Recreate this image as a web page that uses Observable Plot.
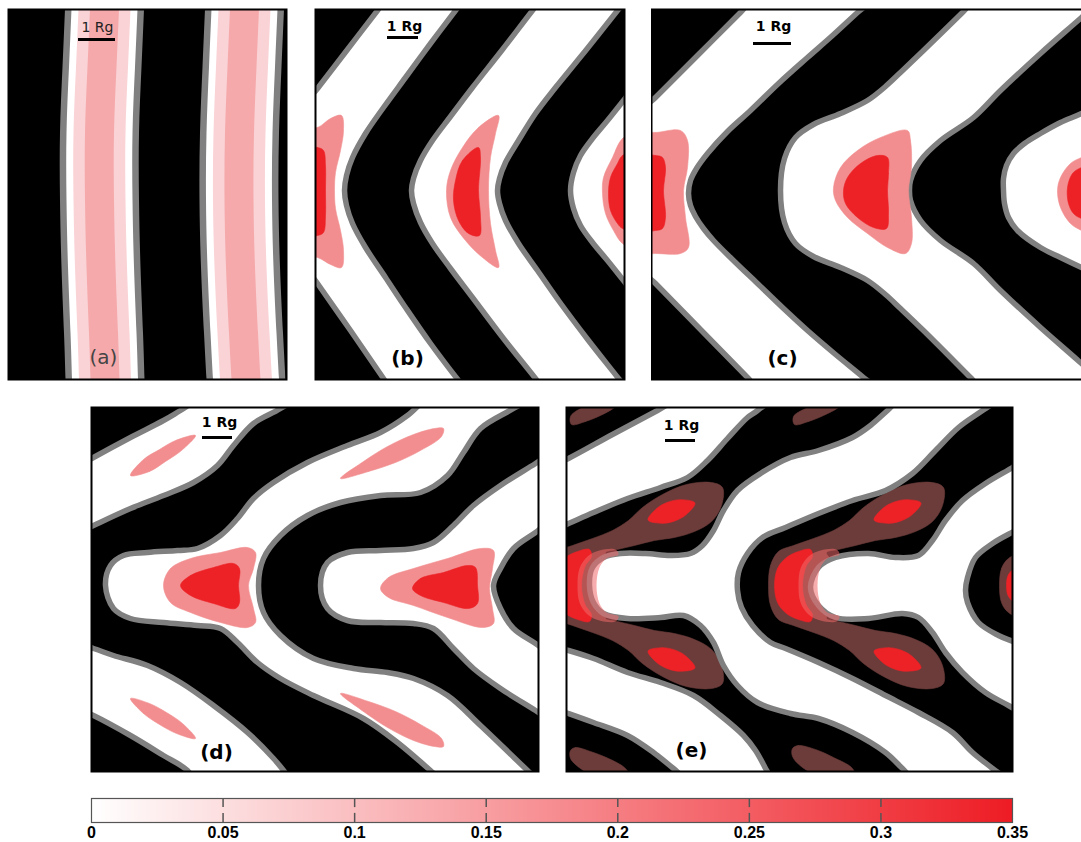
<!DOCTYPE html>
<html>
<head>
<meta charset="utf-8">
<script src="https://cdn.jsdelivr.net/npm/d3@7"></script>
<script src="https://cdn.jsdelivr.net/npm/@observablehq/plot@0.6"></script>
<style>
  html, body { margin: 0; padding: 0; background: #fff; }
  body { width: 1081px; height: 842px; position: relative; overflow: hidden; font-family: "DejaVu Sans", sans-serif; }
  .panel { position: absolute; overflow: visible; }
  .clip { position: absolute; overflow: hidden; }
  svg { max-width: none !important; }
</style>
</head>
<body>
<script>
// ---------------- DATA (page-pixel units) ----------------

// Panel (a): two vertical stripes; centre line x at sample heights, and contour half-widths
const aY        = [9, 67, 133, 200, 267, 333, 379];
const aStripe1  = [104.5, 102, 99.5, 99.5, 101, 103.5, 105];
const aStripe2  = [244.5, 242, 239.5, 239, 240.5, 243.5, 246];
const aHalfWidths = [39.5, 33, 26, 14.5];          // edge, white, level 1, level 2

// Panel (b): white chevron stripes and pink / red blobs
const bWhite = [
  [[295,117],[317,88],[347,49],[377,10],[396,-15],[474,-15],[455,10],[430,43],[405,77],[383,107],[365,133],[352,157],[346,175],[344,190],[346,205],[352,223],[365,247],[385,277],[405,307],[430,343],[458,380],[474,400],[398,400],[383,378],[350,330],[317,283],[295,251]],
  [[552,-15],[532,10],[502,49],[472,87],[450,116],[432,140],[420,160],[413,178],[411,190],[413,203],[420,222],[432,243],[450,268],[472,297],[503,338],[535,378],[552,400],[635,400],[618,378],[588,340],[558,300],[537,270],[518,243],[505,220],[499,203],[497,190],[499,178],[505,162],[518,140],[535,113],[555,87],[586,49],[617,10],[637,-15]],
  [[650,66],[623,100],[607,120],[592,138],[580,155],[573,172],[570,190],[573,208],[580,225],[592,242],[607,260],[623,280],[650,314],[680,314],[680,66]]
];
const bPink = [
  [[295,128],[317,127],[330,118],[341,115],[343,130],[340,150],[335,172],[334,190],[335,208],[340,230],[343,250],[341,267],[330,264],[317,257],[295,255]],
  [[498,115],[478,127],[462,147],[450,170],[446,190],[450,217],[465,240],[482,257],[498,267],[495,250],[490,223],[488,190],[490,157],[495,133]],
  [[640,130],[622,138],[612,157],[603,177],[602,193],[605,213],[613,230],[622,243],[640,250]]
];
const bRed = [
  [[295,148],[317,147],[323,150],[325,165],[325,190],[325,215],[323,232],[317,235],[295,235]],
  [[478,147],[462,160],[455,180],[453,200],[458,220],[468,233],[479,235],[480,217],[478,190],[480,157]],
  [[640,150],[622,155],[617,163],[610,177],[608,193],[610,210],[617,223],[622,228],[640,232]]
];

// Panel (c)
const cWhite = [
  [[630,122],[655,97],[697,55],[740,12],[767,-15],[887,-15],[857,12],[832,35],[807,57],[778,83],[750,110],[727,131],[707,153],[696,168],[690,180],[688,193],[690,205],[695,216],[703,228],[713,240],[735,262],[757,283],[782,307],[807,330],[835,354],[863,377],[890,400],[770,400],[747,377],[701,330],[655,283],[630,258]],
  [[990,-15],[962,12],[923,50],[900,72],[885,86],[867,100],[840,113],[813,124],[795,137],[784,158],[780,190],[784,222],[795,243],[813,256],[840,267],[867,280],[885,294],[900,308],[923,330],[970,377],[993,400],[1122,400],[1081,363],[1040,327],[1000,290],[973,263],[940,240],[920,220],[910,200],[909,190],[910,180],[920,160],[940,140],[973,117],[1000,90],[1040,53],[1081,17],[1117,-15]],
  [[1110,98],[1081,113],[1060,122],[1040,133],[1024,143],[1013,153],[1006,165],[1003,178],[1003,190],[1004,203],[1008,217],[1017,230],[1040,247],[1060,257],[1081,267],[1110,280],[1130,280],[1130,98]]
];
const cPink = [
  [[630,132],[655,132],[680,130],[687,140],[687,167],[683,190],[685,217],[688,247],[680,253],[655,253],[630,253]],
  [[907,130],[910,140],[911,167],[908,190],[911,217],[911,243],[905,253],[887,247],[867,233],[847,217],[835,200],[833,187],[840,167],[857,150],[880,137]],
  [[1100,150],[1081,157],[1070,163],[1060,177],[1057,190],[1060,207],[1070,223],[1081,230],[1100,237]]
];
const cRed = [
  [[630,155],[655,155],[662,157],[665,167],[663,190],[665,217],[662,228],[655,230],[630,230]],
  [[887,157],[888,173],[887,190],[888,213],[886,228],[873,227],[857,217],[845,203],[843,190],[847,177],[860,163],[877,155]],
  [[1100,163],[1081,167],[1072,173],[1067,187],[1068,203],[1073,213],[1081,218],[1100,222]]
];

// Panel (d)
const dWhite = [
  [[70,470],[93,457],[130,437],[163,420],[180,410],[222,385],[313,385],[280,408],[253,423],[233,445],[217,465],[193,482],[163,495],[130,508],[93,525],[70,536]],
  [[105,585],[110,565],[123,555],[147,552],[177,550],[197,548],[220,535],[237,518],[253,498],[273,482],[307,462],[347,445],[380,432],[407,415],[415,408],[441,385],[551,385],[513,408],[480,428],[463,452],[447,475],[420,492],[380,495],[340,502],[307,515],[280,535],[263,558],[258,585],[263,612],[280,635],[313,658],[353,668],[387,672],[413,678],[447,695],[480,725],[527,770],[553,795],[459,795],[430,770],[397,742],[363,718],[313,695],[280,678],[257,662],[237,642],[220,628],[197,625],[163,622],[130,618],[113,608]],
  [[320,585],[327,562],[347,552],[380,550],[413,548],[433,542],[453,525],[473,505],[500,485],[535,463],[560,447],[580,440],[580,520],[560,514],[535,532],[513,548],[500,568],[493,585],[500,608],[513,628],[535,643],[560,660],[580,655],[580,730],[560,726],[535,710],[500,688],[473,668],[453,648],[433,628],[413,623],[380,622],[347,620],[327,608]],
  [[70,641],[93,648],[113,655],[147,665],[180,682],[213,705],[247,732],[273,758],[283,770],[300,795],[205,795],[187,770],[163,755],[130,735],[93,715],[70,705]]
];
const dPink = [
  [[130,475],[149,471],[165,461],[181,450],[195,435],[175,440],[159,449],[143,459]],
  [[340,478],[368,471],[395,462],[420,450],[441,436],[443,428],[434,428],[413,434],[387,446],[363,461]],
  [[130,698],[143,713],[159,724],[176,733],[195,738],[182,723],[166,712],[149,703]],
  [[340,693],[363,711],[387,727],[413,740],[434,746],[443,746],[441,738],[420,724],[395,711],[368,701]],
  [[163,585],[170,568],[190,558],[220,552],[247,547],[255,552],[253,568],[248,585],[253,608],[255,622],[247,627],[220,622],[190,612],[170,602]],
  [[380,588],[388,577],[413,568],[447,558],[480,548],[493,550],[492,568],[489,588],[492,608],[493,623],[482,627],[447,617],[413,605],[388,597]]
];
const dRed = [
  [[180,585],[190,575],[213,567],[233,563],[239,568],[238,585],[239,602],[235,608],[213,603],[190,595]],
  [[412,588],[420,578],[443,572],[467,565],[475,567],[477,585],[477,603],[468,608],[443,602],[420,595]]
];

// Panel (e)
const eWhite = [
  [[545,469],[568,458],[612,434],[657,410],[703,385],[785,385],[757,410],[747,417],[727,438],[707,460],[687,477],[660,487],[627,498],[593,512],[568,523],[545,533]],
  [[545,644],[568,650],[593,658],[627,672],[660,682],[693,695],[720,715],[743,735],[755,750],[765,768],[778,795],[707,795],[673,768],[653,752],[627,735],[593,722],[568,713],[545,705]],
  [[589,585],[592,567],[603,557],[620,553],[645,553],[670,555],[690,553],[702,545],[713,530],[723,510],[737,490],[760,473],[790,457],[818,450],[852,437],[870,425],[887,410],[915,385],[1017,385],[982,410],[958,427],[935,450],[912,473],[885,490],[852,500],[818,513],[785,527],[762,537],[747,553],[738,572],[737,590],[741,607],[752,625],[770,642],[785,648],[818,662],[852,678],[885,695],[918,712],[952,732],[972,752],[992,768],[1026,795],[931,795],[902,768],[885,752],[852,732],[818,718],[790,713],[757,702],[737,685],[723,665],[713,642],[700,625],[683,615],[660,617],[627,618],[603,613],[593,602]],
  [[810,587],[818,567],[835,557],[868,553],[895,557],[918,555],[932,540],[945,520],[962,500],[985,483],[1012,467],[1035,453],[1050,450],[1050,522],[1035,519],[1015,530],[992,543],[975,557],[967,577],[965,590],[967,602],[978,622],[998,635],[1015,642],[1035,652],[1050,652],[1050,722],[1035,720],[1008,705],[985,692],[962,672],[945,652],[932,632],[918,617],[902,613],[868,618],[835,617],[818,605]]
];
const eBrown = [
  [[547,585],[549,565],[557,551],[572,545],[592,538],[612,530],[628,520],[642,507],[662,494],[686,484],[711,482],[722,487],[721,505],[711,521],[694,531],[674,537],[654,540],[634,545],[617,549],[605,552],[609,560],[609,610],[605,618],[617,621],[634,625],[654,630],[674,633],[694,639],[711,649],[721,665],[722,683],[711,688],[686,686],[662,676],[642,663],[628,650],[612,640],[592,632],[572,625],[557,619],[549,605]],
  [[768,585],[770,565],[778,551],[793,545],[813,538],[833,530],[849,520],[863,507],[883,494],[907,484],[932,482],[943,487],[942,505],[932,521],[915,531],[895,537],[875,540],[855,545],[838,549],[826,552],[830,560],[830,610],[826,618],[838,621],[855,625],[875,630],[895,633],[915,639],[932,649],[942,665],[943,683],[932,688],[907,686],[883,676],[863,663],[849,650],[833,640],[813,632],[793,625],[778,619],[770,605]],
  [[999,585],[1001,568],[1008,558],[1025,552],[1025,618],[1008,612],[1001,602]],
  [[571,424],[585,421],[600,415],[614,407],[620,400],[600,400],[580,408],[570,416]],
  [[794,424],[808,421],[823,415],[838,407],[845,400],[825,400],[805,408],[793,416]],
  [[570,750],[575,747],[590,751],[608,758],[625,768],[630,778],[600,778],[580,768],[570,758]],
  [[792,748],[798,745],[815,749],[833,757],[852,768],[855,778],[825,778],[802,767],[792,756]]
];
const eRed = [
  [[553,585],[556,568],[565,557],[577,551],[589,549],[591,556],[585,565],[582,575],[581,585],[582,595],[585,605],[591,614],[589,621],[577,619],[565,613],[556,602]],
  [[774,585],[777,568],[786,557],[798,551],[810,549],[812,556],[806,565],[803,575],[802,585],[803,595],[806,605],[812,614],[810,621],[798,619],[786,613],[777,602]],
  [[647.5,519.5],[662,522.8],[674.4,520.4],[685.5,514.3],[694.5,502.5],[680,499.2],[667.6,501.6],[656.5,507.7]],
  [[647.5,650.5],[662,647.2],[674.4,649.6],[685.5,655.7],[694.5,667.5],[680,670.8],[667.6,668.4],[656.5,662.3]],
  [[873.5,519.5],[888,522.8],[900.4,520.4],[911.5,514.3],[920.5,502.5],[906,499.2],[893.6,501.6],[882.5,507.7]],
  [[873.5,650.5],[888,647.2],[900.4,649.6],[911.5,655.7],[920.5,667.5],[906,670.8],[893.6,668.4],[882.5,662.3]],
  [[1006,585],[1008,574],[1018,566],[1018,604],[1008,596]]
];
const eGlow = [
  [[577,585],[579,568],[587,556],[599,550],[615,549],[618,554],[606,558],[599,567],[596,585],[599,603],[606,612],[618,616],[615,621],[599,620],[587,614],[579,602]],
  [[798,585],[800,568],[808,556],[820,550],[836,549],[839,554],[827,558],[820,567],[817,585],[820,603],[827,612],[839,616],[836,621],[820,620],[808,614],[800,602]]
];

// Colour bar
const cbTicks = [0, 0.05, 0.1, 0.15, 0.2, 0.25, 0.3, 0.35];

// ---------------- LAYOUT / STYLE ----------------
const C = {gray: "#808080", pink: "#f28e90", red: "#ec2227", brown: "#6c3c3a", a1: "#fad3d6", a2: "#f5a9ab"};
const boxes = {a: [8, 286, 9, 379], b: [315, 624, 9, 379], c: [651, 1091, 9, 379], d: [91, 538, 407, 771], e: [566, 1012, 407, 771]};
const notes = {
  a: {rg: [97, 27], bar: [78, 115, 39], tag: [103, 357], bold: false},
  b: {rg: [404, 26], bar: [387, 418, 37], tag: [407, 358], bold: true},
  c: {rg: [773, 26], bar: [753, 791, 43], tag: [782, 358], bold: true},
  d: {rg: [219, 422], bar: [202, 232, 437], tag: [216, 752], bold: true},
  e: {rg: [681, 425], bar: [665, 695, 440], tag: [691, 750], bold: true}
};

const toRows = shapes => shapes.flatMap((pts, id) => pts.map(([x, y]) => ({id, x, y})));
const blob = (shapes, fill, extra = {}) => Plot.line(toRows(shapes), {x: "x", y: "y", z: "id", curve: "catmull-rom-closed", fill, stroke: fill, strokeWidth: 0.6, clip: true, ...extra});
const band = shapes => Plot.line(toRows(shapes), {x: "x", y: "y", z: "id", curve: "catmull-rom-closed", fill: "white", stroke: C.gray, strokeWidth: 5.5, clip: true});

function annotations(key) {
  const n = notes[key];
  const w = n.bold ? "bold" : "normal";
  return [
    Plot.text([{t: "1 Rg", x: n.rg[0], y: n.rg[1]}], {x: "x", y: "y", text: "t", fontSize: 14, fontWeight: w, fontFamily: "DejaVu Sans", fill: n.bold ? "black" : "#222"}),
    Plot.ruleY([{x1: n.bar[0], x2: n.bar[1], y: n.bar[2]}], {x1: "x1", x2: "x2", y: "y", stroke: "black", strokeWidth: 3}),
    Plot.text([{t: `(${key})`, x: n.tag[0], y: n.tag[1]}], {x: "x", y: "y", text: "t", fontSize: 20, fontWeight: w, fontFamily: "DejaVu Sans", fill: n.bold ? "black" : "#444"})
  ];
}

function drawPanel(key, marks, visibleWidth) {
  const [x0, x1, y0, y1] = boxes[key];
  const w = x1 - x0, h = y1 - y0;
  const svg = Plot.plot({
    width: w, height: h, margin: 0,
    x: {domain: [x0, x1], axis: null},
    y: {domain: [y0, y1], reverse: true, axis: null},
    style: {background: "transparent", overflow: "visible", maxWidth: "none"},
    marks: [Plot.frame({fill: "black"}), ...marks, ...annotations(key), Plot.frame({stroke: "black", strokeWidth: 2})]
  });
  const div = document.createElement("div");
  div.className = visibleWidth ? "clip" : "panel";
  Object.assign(div.style, {left: x0 + "px", top: (y0 - (visibleWidth ? 2 : 0)) + "px", width: (visibleWidth ?? w) + "px", height: (h + (visibleWidth ? 4 : 0)) + "px"});
  if (visibleWidth) { svg.style.marginTop = "2px"; svg.style.width = w + "px"; }
  div.appendChild(svg);
  document.body.appendChild(div);
}

// Panel (a)
const aRows = aY.map((y, i) => ({y, s1: aStripe1[i], s2: aStripe2[i]}));
const aFills = [C.gray, "white", C.a1, C.a2];
const aMarks = [];
for (const s of ["s1", "s2"]) {
  aHalfWidths.forEach((hw, k) => {
    aMarks.push(Plot.areaX(aRows, {y: "y", x1: d => d[s] - hw, x2: d => d[s] + hw, fill: aFills[k], curve: "natural", clip: true}));
  });
}
drawPanel("a", aMarks);
drawPanel("b", [band(bWhite), blob(bPink, C.pink), blob(bRed, C.red)]);
drawPanel("c", [band(cWhite), blob(cPink, C.pink), blob(cRed, C.red)], 1081 - 651);
drawPanel("d", [band(dWhite), blob(dPink, C.pink), blob(dRed, C.red)]);
drawPanel("e", [blob(eBrown, C.brown), blob(eRed, C.red), band(eWhite), blob(eGlow, "#f06a6a", {fillOpacity: 0.55, strokeOpacity: 0})]);

// Colour bar
const cb = Plot.plot({
  width: 1081, height: 52, marginLeft: 91, marginRight: 69, marginTop: 8, marginBottom: 20,
  x: {domain: [0, 0.35], axis: null},
  y: {domain: [0, 1], axis: null},
  color: {type: "linear", domain: [0, 0.35], range: ["#ffffff", "#ee1c24"]},
  style: {background: "transparent", overflow: "visible", maxWidth: "none"},
  marks: [
    Plot.raster({fill: (x, y) => x, x1: 0, x2: 0.35, y1: 0, y2: 1}),
    Plot.ruleX(cbTicks.slice(1, -1), {x: d => d, y1: 0.62, y2: 1, stroke: "#555", strokeWidth: 1.5}),
    Plot.ruleX(cbTicks.slice(1, -1), {x: d => d, y1: 0, y2: 0.38, stroke: "#555", strokeWidth: 1.5}),
    Plot.frame({stroke: "#555", strokeWidth: 1.2}),
    Plot.text(cbTicks, {x: d => d, frameAnchor: "bottom", lineAnchor: "top", dy: 4, text: d => String(d), fontSize: 16, fontWeight: "bold", fontFamily: "'Liberation Sans Narrow', 'Arial Narrow', 'Liberation Sans', sans-serif", fill: "black"})
  ]
});
const cbDiv = document.createElement("div");
cbDiv.className = "panel";
Object.assign(cbDiv.style, {left: "0px", top: "790px", width: "1081px", height: "52px"});
cbDiv.appendChild(cb);
document.body.appendChild(cbDiv);
</script>
</body>
</html>
